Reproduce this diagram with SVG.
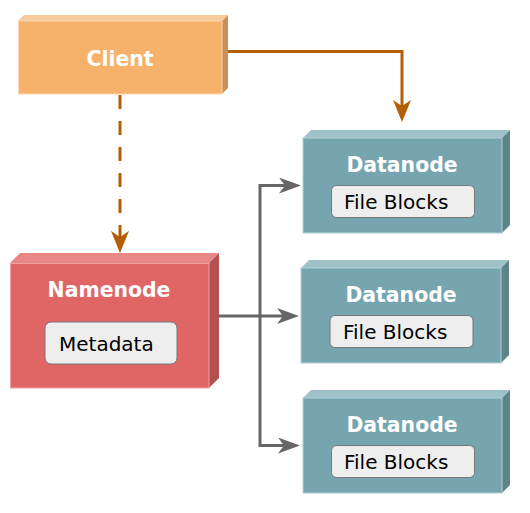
<svg xmlns="http://www.w3.org/2000/svg" width="530" height="513" viewBox="0 0 530 513">
<style>
.title{font-family:"DejaVu Sans",Verdana,sans-serif;font-weight:bold;font-size:20.4px;fill:#ffffff;text-anchor:middle}
.lbl{font-family:"DejaVu Sans",Verdana,sans-serif;font-size:20px;fill:#000000}
.inner{fill:#eeeeee;stroke:#777777;stroke-width:1}
.cf{fill:#f6b26b;stroke:#fad7b0;stroke-width:1}
.ct{fill:#f9cb9c}
.cs{fill:#c98f56}
.nf{fill:#e06666;stroke:#f0a0a0;stroke-width:1}
.nt{fill:#e98686}
.ns{fill:#b55050}
.df{fill:#76a5af;stroke:#b4d0d6;stroke-width:1}
.dt{fill:#9fc1c8}
.ds{fill:#5d8489}
.orange{fill:none;stroke:#b45f06;stroke-width:3;marker-end:url(#ao)}
.gray{fill:none;stroke:#666666;stroke-width:3}
.garrow{marker-end:url(#ag)}
</style>
<defs>
<marker id="ao" markerUnits="userSpaceOnUse" markerWidth="24" markerHeight="20" refX="6" refY="9" orient="auto">
<path d="M0,0 L22,9 L0,18 L6,9 Z" fill="#b45f06"/>
</marker>
<marker id="ag" markerUnits="userSpaceOnUse" markerWidth="24" markerHeight="18" refX="6" refY="8" orient="auto">
<path d="M0,0 L22,8 L0,16 L6,8 Z" fill="#666666"/>
</marker>
</defs>
<g id="connectors">
<path class="orange" d="M228,51.5 L402,51.5 L402,106"/>
<path class="orange" d="M120,95 L120,237" stroke-dasharray="14 12"/>
<path class="gray garrow" d="M219,316 L283,316"/>
<path class="gray garrow" d="M260,316 L260,185.5 L285,185.5"/>
<path class="gray garrow" d="M260,316 L260,445.5 L284,445.5"/>
</g>
<g id="client">
<polygon class="ct" points="18,21 24,15 228,15 222,21"/>
<polygon class="cs" points="222,21 228,15 228,88 222,94"/>
<rect class="cf" x="18.5" y="21" width="203.5" height="73"/>
<text class="title" x="120" y="66">Client</text>
</g>
<g id="namenode">
<polygon class="nt" points="10,263 20,253 219,253 209,263"/>
<polygon class="ns" points="209,263 219,253 219,378 209,388"/>
<rect class="nf" x="10.5" y="263.5" width="198.5" height="124.5"/>
<text class="title" x="109" y="297">Namenode</text>
<rect class="inner" x="45" y="322" width="132" height="42" rx="6"/>
<text class="lbl" x="59" y="351">Metadata</text>
</g>
<g id="datanode1">
<polygon class="dt" points="303,138 311,130 510,130 502,138"/>
<polygon class="ds" points="502,138 510,130 510,225 502,233"/>
<rect class="df" x="303" y="138" width="199" height="95"/>
<text class="title" x="402" y="172">Datanode</text>
<rect class="inner" x="331.5" y="185.5" width="143" height="32" rx="5"/>
<text class="lbl" x="344" y="208.5">File Blocks</text>
</g>
<g id="datanode2">
<polygon class="dt" points="301,268 309,260 509,260 501,268"/>
<polygon class="ds" points="501,268 509,260 509,355 501,363"/>
<rect class="df" x="301" y="268" width="200" height="95"/>
<text class="title" x="401" y="302">Datanode</text>
<rect class="inner" x="330" y="315.5" width="143" height="32" rx="5"/>
<text class="lbl" x="343" y="338.5">File Blocks</text>
</g>
<g id="datanode3">
<polygon class="dt" points="303,398 311,390 510,390 502,398"/>
<polygon class="ds" points="502,398 510,390 510,485 502,493"/>
<rect class="df" x="303" y="398" width="199" height="95"/>
<text class="title" x="402" y="432">Datanode</text>
<rect class="inner" x="331.5" y="445.5" width="143" height="32" rx="5"/>
<text class="lbl" x="344" y="468.5">File Blocks</text>
</g>
</svg>
